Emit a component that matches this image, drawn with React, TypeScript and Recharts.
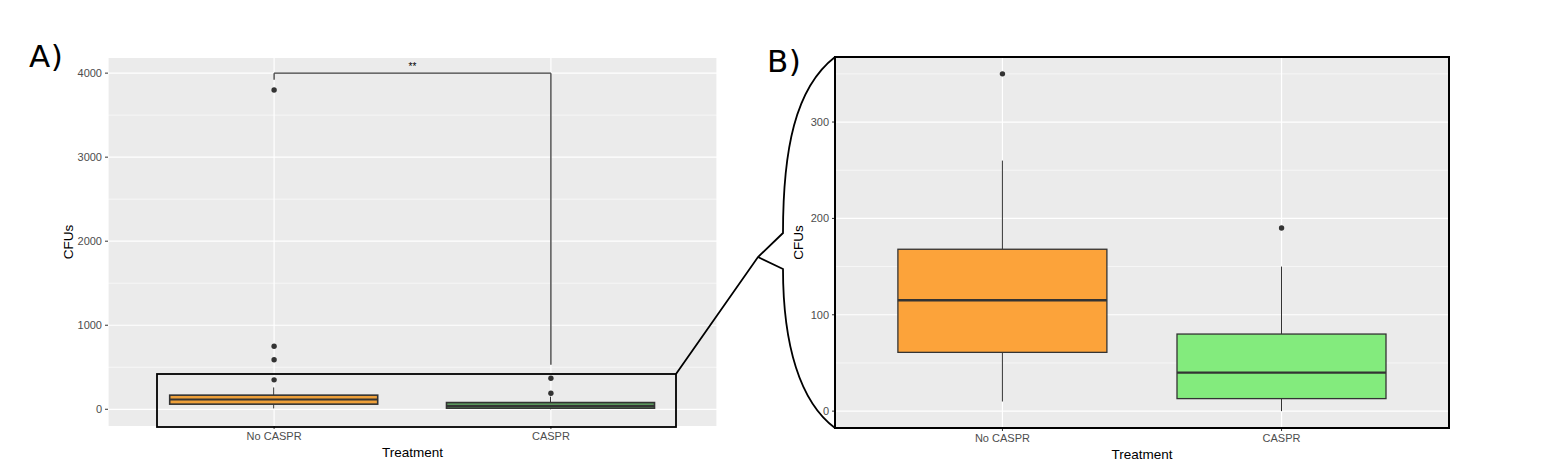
import React from 'react';
import {
  ComposedChart,
  Bar,
  Scatter,
  XAxis,
  YAxis,
  CartesianGrid,
  ReferenceLine,
} from 'recharts';

// ---------- data ----------
const categories = ['No CASPR', 'CASPR'];
const whiskerLow = [10, 0];
const quartile1 = [61, 13];
const medians = [115, 40];
const quartile3 = [168, 80];
const whiskerHigh = [260, 150];
const outliersNoCaspr = [350, 590, 750, 3800];
const outliersCaspr = [190, 370];
const outlierGroups = [outliersNoCaspr, outliersCaspr];

const ticksA = [0, 1000, 2000, 3000, 4000];
const minorA = [500, 1500, 2500, 3500];
const ticksB = [0, 100, 200, 300];
const minorB = [50, 150, 250, 350];

const zoomLimits = [0, 350];
const sigText = '**';
const sigTop = 4000;
const sigLeftFoot = 3920;
const sigRightFoot = 530;

// ---------- styles ----------
const FONT = '"Liberation Sans", Arial, sans-serif';
const fillsA = ['#eea03a', '#5a955c'];
const fillsB = ['#fca33a', '#83eb7d'];
const BG = '#EBEBEB';

const domainA: [number, number] = [-199, 4180];
const spanZ = zoomLimits[1] - zoomLimits[0];
const domainB: [number, number] = [zoomLimits[0] - 0.05 * spanZ, zoomLimits[1] + 0.05 * spanZ];

const buildRows = (domain: [number, number]) =>
  categories.map((cat, i) => {
    const row: any = {
      cat,
      idx: i,
      lo: whiskerLow[i],
      q1: quartile1[i],
      med: medians[i],
      q3: quartile3[i],
      hi: whiskerHigh[i],
    };
    const inside = outlierGroups[i].filter((v) => v >= domain[0] && v <= domain[1]);
    for (let k = 0; k < 4; k++) row['o' + k] = inside[k];
    return row;
  });

const rowsA = buildRows(domainA);
const rowsB = buildRows(domainB);

const makeBoxShape = (fills: string[], sw: number, medW: number) => (props: any) => {
  const { x, y, width, height, payload } = props;
  if (!payload || height == null) return <g />;
  const top = Math.min(y, y + height);
  const bot = Math.max(y, y + height);
  const lo = payload.lo;
  const hi = payload.hi;
  const py = (v: number) => bot - ((v - lo) / (hi - lo)) * (bot - top);
  const cx = x + width / 2;
  const yq1 = py(payload.q1);
  const yq3 = py(payload.q3);
  const ym = py(payload.med);
  return (
    <g>
      <line x1={cx} x2={cx} y1={top} y2={yq3} stroke="#333" strokeWidth={1} />
      <line x1={cx} x2={cx} y1={yq1} y2={bot} stroke="#333" strokeWidth={1} />
      <rect
        x={x}
        y={yq3}
        width={width}
        height={Math.max(yq1 - yq3, 0.5)}
        fill={fills[payload.idx]}
        stroke="#333"
        strokeWidth={sw}
      />
      <line x1={x} x2={x + width} y1={ym} y2={ym} stroke="#333" strokeWidth={medW} />
    </g>
  );
};

const makeDot = (key: string) => (props: any) => {
  const { cx, cy, payload } = props;
  if (!payload || payload[key] == null || cy == null || isNaN(cy)) return <g />;
  return <circle cx={cx} cy={cy} r={2.7} fill="#333" />;
};

const tickStyle = { fill: '#4d4d4d', fontSize: 11, fontFamily: FONT };
const titleStyle = { fill: '#000', fontSize: 13.5, fontFamily: FONT };

interface PanelProps {
  rows: any[];
  width: number;
  height: number;
  margin: { top: number; right: number; bottom: number; left: number };
  yWidth: number;
  domain: [number, number];
  ticks: number[];
  minor: number[];
  fills: string[];
  pad: number;
  barSize: number;
  sw: number;
  medW: number;
  children?: React.ReactNode;
}

const Panel = (p: PanelProps) => (
  <ComposedChart width={p.width} height={p.height} data={p.rows} margin={p.margin}>
    <CartesianGrid fill={BG} stroke="#ffffff" strokeWidth={1.2} horizontalValues={p.ticks} />
    <CartesianGrid stroke="#ffffff" strokeWidth={0.6} vertical={false} horizontalValues={p.minor} />
    <XAxis
      dataKey="cat"
      type="category"
      allowDuplicatedCategory={false}
      padding={{ left: p.pad, right: p.pad }}
      axisLine={false}
      tickLine={{ stroke: '#333' }}
      tickSize={3}
      tickMargin={3}
      interval={0}
      tick={tickStyle}
      height={36}
      label={{ value: 'Treatment', position: 'insideBottom', offset: 5, ...titleStyle }}
    />
    <YAxis
      type="number"
      domain={p.domain}
      allowDataOverflow
      ticks={p.ticks}
      axisLine={false}
      tickLine={{ stroke: '#333' }}
      tickSize={3}
      tickMargin={3}
      tick={tickStyle}
      width={p.yWidth}
      label={{ value: 'CFUs', angle: -90, position: 'center', ...titleStyle }}
    />
    <Bar
      dataKey={(d: any) => [d.lo, d.hi]}
      barSize={p.barSize}
      isAnimationActive={false}
      shape={makeBoxShape(p.fills, p.sw, p.medW)}
    />
    {[0, 1, 2, 3].map((k) => (
      <Scatter
        key={k}
        dataKey={'o' + k}
        isAnimationActive={false}
        shape={makeDot('o' + k)}
      />
    ))}
    {p.children}
  </ComposedChart>
);

export default function App() {
  const segStyle = { stroke: '#3a3a3a', strokeWidth: 1.3 };
  const labelFont = '"DejaVu Sans", sans-serif';
  return (
    <div
      style={{
        position: 'absolute',
        left: 0,
        top: 0,
        width: 1558,
        height: 472,
        background: '#fff',
        overflow: 'hidden',
      }}
    >
      <div style={{ position: 'absolute', left: 0, top: 0 }}>
        <Panel
          rows={rowsA}
          width={740}
          height={472}
          margin={{ top: 58, right: 23, bottom: 10, left: 28 }}
          yWidth={80}
          domain={domainA}
          ticks={ticksA}
          minor={minorA}
          fills={fillsA}
          pad={27.7}
          barSize={208}
          sw={1.6}
          medW={2}
        >
          <ReferenceLine
            segment={[
              { x: categories[0], y: sigLeftFoot },
              { x: categories[0], y: sigTop },
            ]}
            {...segStyle}
          />
          <ReferenceLine
            segment={[
              { x: categories[0], y: sigTop },
              { x: categories[1], y: sigTop },
            ]}
            {...segStyle}
            label={{ value: sigText, position: 'top', offset: 3, fill: '#000', fontSize: 10, fontFamily: FONT }}
          />
          <ReferenceLine
            segment={[
              { x: categories[1], y: sigTop },
              { x: categories[1], y: sigRightFoot },
            ]}
            {...segStyle}
          />
        </Panel>
      </div>
      <div style={{ position: 'absolute', left: 740, top: 0 }}>
        <Panel
          rows={rowsB}
          width={760}
          height={472}
          margin={{ top: 57, right: 51, bottom: 8, left: 21 }}
          yWidth={74}
          domain={domainB}
          ticks={ticksB}
          minor={minorB}
          fills={fillsB}
          pad={27.9}
          barSize={209}
          sw={1.3}
          medW={2.4}
        />
      </div>
      <svg
        width={1558}
        height={472}
        style={{ position: 'absolute', left: 0, top: 0, pointerEvents: 'none' }}
      >
        <rect x={157} y={374} width={519} height={53} fill="none" stroke="#000" strokeWidth={1.8} />
        <rect x={835} y={57} width={614} height={371} fill="none" stroke="#000" strokeWidth={2} />
        <path
          d="M676,374 L758,257 L783,233 C783,150 795,88 835,57"
          fill="none"
          stroke="#000"
          strokeWidth={1.8}
          strokeLinejoin="miter"
        />
        <path
          d="M758,257 L783,269 C783,345 800,402 835,428"
          fill="none"
          stroke="#000"
          strokeWidth={1.8}
        />
        <text x={29} y={67} fontSize={31} letterSpacing={0.5} fontFamily={labelFont} fill="#000">
          A)
        </text>
        <text x={767} y={72} fontSize={31} letterSpacing={0.5} fontFamily={labelFont} fill="#000">
          B)
        </text>
      </svg>
    </div>
  );
}
